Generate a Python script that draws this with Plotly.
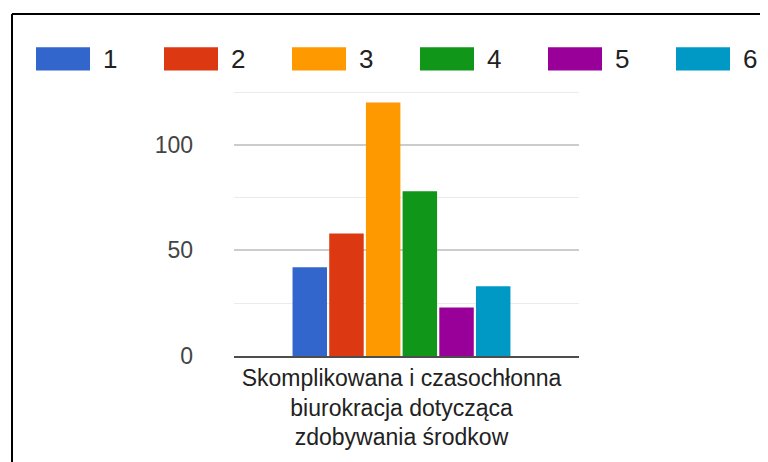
import plotly.graph_objects as go

# ---- data ----
category = ["Skomplikowana i czasochłonna<br>biurokracja dotycząca<br>zdobywania środkow"]
series_names = ["1", "2", "3", "4", "5", "6"]
series_values = [42, 58, 120, 78, 23, 33]
series_colors = ["#3366cc", "#dc3912", "#ff9900", "#109618", "#990099", "#0099c6"]
y_tick_vals = [0, 50, 100]
y_tick_text = ["0", "50", "100"]

# ---- layout geometry (pixels, page coords; page body has 8px margin) ----
OFF = 8
W, H = 768 - OFF, 462 - OFF
L, R, T, B = 234 - OFF, 579 - OFF, 91 - OFF, 363 - OFF  # plot area edges in figure px
FONT = "Liberation Sans, Arial, sans-serif"

def px(x):
    return (x - OFF - L) / (R - L)

def py(y):
    return (B - (y - OFF)) / (B - T)

fig = go.Figure()
for name, val, col in zip(series_names, series_values, series_colors):
    fig.add_trace(go.Bar(x=[0], y=[val], name=name, marker=dict(color=col, line=dict(width=0)),
                         showlegend=False))

shapes = []
annotations = []
# custom legend (large swatches like the original)
for i, (name, col) in enumerate(zip(series_names, series_colors)):
    x0 = 36 + 128 * i
    shapes.append(dict(type="rect", xref="paper", yref="paper",
                       x0=px(x0), x1=px(x0 + 54), y0=py(70), y1=py(46),
                       fillcolor=col, line=dict(width=0)))
    annotations.append(dict(xref="paper", yref="paper", x=px(x0 + 65), y=py(58),
                            text=name, showarrow=False, xanchor="left", yanchor="middle",
                            font=dict(family=FONT, size=26, color="#222222")))

# outer frame lines (top and left)
shapes.append(dict(type="line", xref="paper", yref="paper", x0=px(12), x1=px(800),
                   y0=py(12), y1=py(12), line=dict(color="#000000", width=2)))
shapes.append(dict(type="line", xref="paper", yref="paper", x0=px(12), x1=px(12),
                   y0=py(12), y1=py(500), line=dict(color="#000000", width=2)))

fig.update_layout(
    width=W, height=H,
    margin=dict(l=L, r=W - R, t=T, b=H - B, pad=0),
    paper_bgcolor="white", plot_bgcolor="white",
    barmode="group", bargap=0.362, bargroupgap=0.06,
    shapes=shapes, annotations=annotations,
    font=dict(family=FONT),
    xaxis=dict(
        range=[-0.4855, 0.5145],
        tickvals=[0], ticktext=category,
        showgrid=False, zeroline=False,
        showline=True, linecolor="#4d4d4d", linewidth=2,
        ticks="", tickfont=dict(family=FONT, size=23, color="#222222"),
    ),
    yaxis=dict(
        range=[0, 125.5],
        tickvals=y_tick_vals, ticktext=y_tick_text,
        showgrid=True, gridcolor="#cccccc", gridwidth=1.5,
        minor=dict(dtick=25, tick0=0, showgrid=True, gridcolor="#ebebeb", gridwidth=1.2),
        zeroline=False, showline=False, ticks="",
        ticklabelstandoff=40,
        tickfont=dict(family=FONT, size=23, color="#444444"),
    ),
)

fig.write_html("out.html")
